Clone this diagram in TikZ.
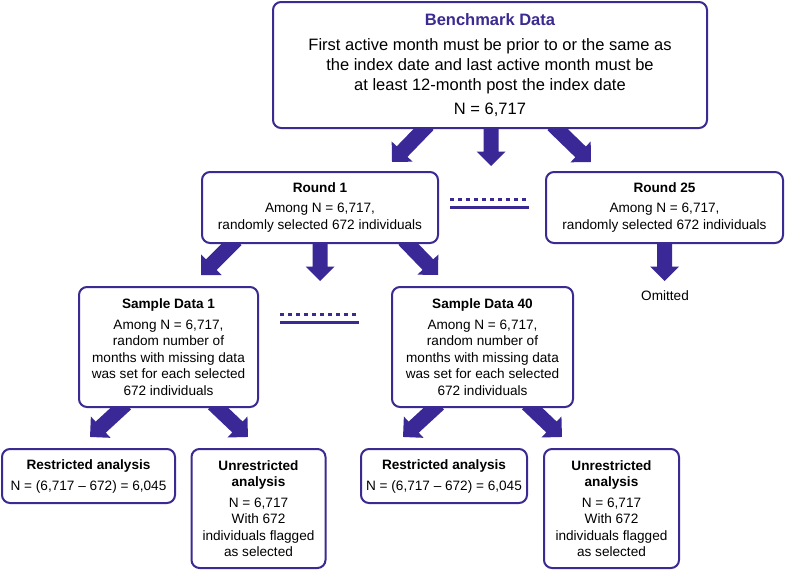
\documentclass[tikz,border=0pt]{standalone}
\usepackage{fontspec}
\setmainfont{Liberation Sans}
\usetikzlibrary{calc,backgrounds}
\definecolor{boxcol}{RGB}{58,42,145}
\definecolor{arrcol}{RGB}{58,40,150}
\tikzset{
  box/.style={draw=boxcol, line width=2pt, rounded corners=8pt, fill=white,
    align=center, inner sep=0pt, text=black},
  bigfont/.style={font=\fontsize{16.5}{20}\selectfont},
  midfont/.style={font=\fontsize{13.6}{17.2}\selectfont},
  smallfont/.style={font=\fontsize{13.6}{16.5}\selectfont},
  dotline/.style={draw=boxcol, line width=3pt, dash pattern=on 3.5pt off 4.5pt},
  solline/.style={draw=boxcol, line width=3pt},
}
\newcommand\blockarrow[2]{%
  \fill[arrcol] let \p1=(#1), \p2=(#2),
     \n1={atan2(\y2-\y1,\x2-\x1)}, \n2={veclen(\x2-\x1,\y2-\y1)} in
     [shift={(\p1)}, rotate=\n1]
     (-6,-7.5) -- (\n2-14.5,-7.5) -- (\n2-14.5,-14.5) -- (\n2,0) --
     (\n2-14.5,14.5) -- (\n2-14.5,7.5) -- (-6,7.5) -- cycle;}
\begin{document}
\begin{tikzpicture}[x=1pt,y=-1pt]
\useasboundingbox (0,0) rectangle (785,570);

\node[box, bigfont, minimum width=434pt, minimum height=126pt] (top) at (490,65)
  {\textcolor{boxcol}{\textbf{Benchmark Data}}\\[5pt]
   First active month must be prior to or the same as\\
   the index date and last active month must be\\
   at least 12-month post the index date\\[4pt]
   N = 6,717};

\node[box, midfont, minimum width=236pt, minimum height=71pt] (r1) at (320,207.5)
  {\textbf{Round 1}\\[3.5pt]
   Among N = 6,717,\\
   randomly selected 672 individuals};

\node[box, midfont, minimum width=237pt, minimum height=71pt] (r25) at (664.5,207.5)
  {\textbf{Round 25}\\[3.5pt]
   Among N = 6,717,\\
   randomly selected 672 individuals};

\node[midfont, inner sep=0pt] (omit) at (665,296) {Omitted};

\node[box, smallfont, minimum width=179pt, minimum height=120pt] (s1) at (168.5,347)
  {\textbf{Sample Data 1}\\[4pt]
   Among N = 6,717,\\
   random number of\\
   months with missing data\\
   was set for each selected\\
   672 individuals};

\node[box, smallfont, minimum width=181pt, minimum height=120pt] (s40) at (482.5,347)
  {\textbf{Sample Data 40}\\[4pt]
   Among N = 6,717,\\
   random number of\\
   months with missing data\\
   was set for each selected\\
   672 individuals};

\node[box, smallfont, minimum width=173pt, minimum height=54pt] (res1) at (88.5,476)
  {\textbf{Restricted analysis}\\[4.5pt]
   N = (6,717 -- 672) = 6,045};

\node[box, smallfont, minimum width=134pt, minimum height=119pt] (unr1) at (258.5,508.5)
  {\textbf{Unrestricted}\\
   \textbf{analysis}\\[4pt]
   N = 6,717\\
   With 672\\
   individuals flagged\\
   as selected};

\node[box, smallfont, minimum width=166pt, minimum height=54pt] (res2) at (444,476)
  {\textbf{Restricted analysis}\\[4.5pt]
   N = (6,717 -- 672) = 6,045};

\node[box, smallfont, minimum width=135pt, minimum height=119pt] (unr2) at (611.5,508.5)
  {\textbf{Unrestricted}\\
   \textbf{analysis}\\[4pt]
   N = 6,717\\
   With 672\\
   individuals flagged\\
   as selected};

% arrow tips
\coordinate (ta1) at (392,162);
\coordinate (ta2) at (491,166);
\coordinate (ta3) at (591,162);
\coordinate (tb1) at (201,275);
\coordinate (tb2) at (320,281);
\coordinate (tb3) at (438,275);
\coordinate (tr25) at (664.5,281);
\coordinate (tc1) at (90,437);
\coordinate (tc2) at (248,437);
\coordinate (td1) at (403,437);
\coordinate (td2) at (562,437);

\begin{scope}[on background layer]
\blockarrow{[xshift=-66pt]top.south}{ta1}
\blockarrow{[xshift=1pt]top.south}{ta2}
\blockarrow{[xshift=67pt]top.south}{ta3}
\blockarrow{[xshift=-88pt]r1.south}{tb1}
\blockarrow{r1.south}{tb2}
\blockarrow{[xshift=88pt]r1.south}{tb3}
\blockarrow{r25.south}{tr25}
\blockarrow{[xshift=-47pt]s1.south}{tc1}
\blockarrow{[xshift=49pt]s1.south}{tc2}
\blockarrow{[xshift=-48pt]s40.south}{td1}
\blockarrow{[xshift=49pt]s40.south}{td2}
\end{scope}

% ellipsis markers
\draw[dotline] (450,199) -- (529,199);
\draw[solline] (450,207) -- (529,207);
\draw[dotline] (280,314) -- (359,314);
\draw[solline] (280,322) -- (359,322);
\end{tikzpicture}
\end{document}
